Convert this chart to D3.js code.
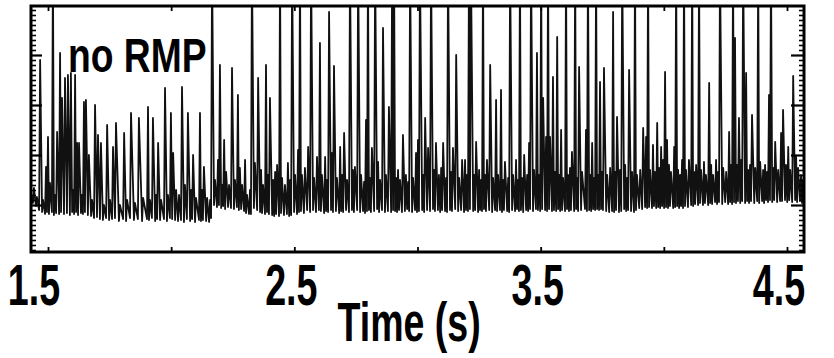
<!DOCTYPE html>
<html>
<head>
<meta charset="utf-8">
<script src="https://cdn.jsdelivr.net/npm/d3@7"></script>
<style>
  html, body { margin: 0; padding: 0; background: #fff; }
  svg { display: block; }
</style>
</head>
<body>
<svg id="chart" width="834" height="358"></svg>
<script>
// ---- DATA ----
// x axis: time in seconds; y axis: D-alpha signal (arbitrary units)
const xTickValues = [1.5, 2.0, 2.5, 3.0, 3.5, 4.0, 4.5];
const xTickLabels = ["1.5", "2.5", "3.5", "4.5"];
const xLabelTimes = [1.5, 2.5, 3.5, 4.5];
const yMajorTicks = [0.5, 1.0, 1.5, 2.0];
const xDomain = [1.431, 4.569];
const yDomain = [0.03, 2.49];

// each ELM / spike: time, peak value, floor value just before the spike
const elmTime = [
 1.431,1.443,1.455,1.468,1.480,1.492,1.500,1.508,1.520,1.528,1.537,1.549,1.557,1.569,1.581,1.593,1.602,1.610,1.618,1.626,1.638,1.646,1.654,1.666,1.679,
 1.691,1.703,1.715,1.727,1.740,1.752,1.764,1.776,1.792,1.809,1.821,1.837,1.853,1.869,1.886,1.906,1.914,1.926,1.939,1.947,1.959,1.975,1.987,1.999,2.008,2.020,2.032,2.044,2.056,2.068,2.081,2.089,2.101,2.117,2.125,2.133,2.146,2.158,
 2.166,2.178,2.190,2.198,2.207,2.215,2.223,2.235,2.247,2.259,2.271,2.279,2.288,2.300,2.308,2.320,
 2.328,2.340,2.353,2.365,2.373,2.385,2.393,2.401,2.414,2.422,2.430,2.442,2.450,2.462,2.474,2.483,2.491,2.503,2.515,2.523,2.531,2.543,2.556,2.568,2.580,2.592,2.604,2.612,2.625,2.633,2.641,2.653,2.661,2.673,2.686,2.694,2.702,2.714,2.726,2.738,2.746,2.759,2.771,2.783,2.791,2.799,2.807,2.815,2.828,2.840,2.848,2.860,2.872,2.884,2.897,2.905,2.913,2.921,2.929,2.941,2.953,2.962,2.970,2.982,2.994,3.002,3.010,
 3.023,3.031,3.043,3.055,3.067,3.075,3.087,3.096,3.104,3.116,3.124,3.136,3.144,3.157,3.169,3.181,3.193,3.201,3.209,3.217,3.230,3.238,3.250,3.258,3.266,3.274,3.282,3.295,3.307,3.319,3.327,3.339,3.347,3.355,3.368,3.376,3.388,3.400,3.408,3.416,3.424,3.433,3.445,3.453,3.461,3.473,3.485,3.493,3.502,3.510,3.522,3.530,3.538,3.550,3.558,3.567,3.575,3.583,3.591,3.603,3.611,3.619,3.627,3.640,3.648,3.656,3.668,3.684,3.692,3.701,3.709,3.717,3.725,3.733,3.741,
 3.749,3.757,3.770,3.782,3.794,3.802,3.810,3.822,3.831,3.843,3.851,3.859,3.871,3.883,3.891,3.904,3.916,3.928,3.936,3.944,3.956,3.964,3.973,3.981,3.989,3.997,4.005,4.013,4.021,4.029,4.042,4.050,4.058,4.066,4.074,4.082,4.090,4.102,4.115,4.123,4.131,
 4.143,4.151,4.163,4.171,4.184,4.192,4.200,4.212,4.220,4.228,4.241,4.253,4.265,4.273,4.281,4.289,4.297,4.305,4.314,4.322,4.334,4.342,4.350,4.358,4.371,4.383,4.391,4.403,4.411,4.419,4.427,4.435,4.444,4.452,4.464,4.476,4.484,4.496,4.505,4.513,4.525,4.537,4.545,4.557,4.565
];
const elmPeak = [
 0.60,0.67,0.58,1.95,0.55,0.88,1.18,0.72,2.90,0.60,1.23,2.02,1.57,1.77,1.80,1.82,0.65,1.80,1.12,1.12,0.60,1.53,1.55,1.00,0.55,
 1.50,1.20,1.12,0.50,1.30,0.55,1.08,1.32,0.50,1.22,0.55,1.42,0.52,1.37,0.57,1.48,0.55,1.37,0.60,1.12,0.55,1.67,0.60,1.42,1.02,0.65,0.60,1.68,0.70,1.42,0.65,1.00,0.57,1.42,0.65,0.88,0.57,0.55,
 2.90,0.75,0.95,1.90,0.70,1.15,0.83,0.70,1.87,0.75,1.60,0.87,0.70,0.95,0.60,0.65,
 2.90,0.92,1.77,0.85,0.70,1.90,0.80,1.57,0.75,0.83,0.90,2.90,0.77,0.70,0.92,0.75,2.90,0.80,1.05,2.90,0.80,0.87,1.08,2.90,0.77,0.98,2.12,0.80,0.98,0.75,2.43,1.02,1.89,0.77,1.08,0.80,1.22,0.75,2.90,0.85,0.88,2.90,0.80,0.73,1.35,2.90,0.77,1.07,2.90,0.93,0.75,2.27,0.80,1.48,2.90,2.90,0.77,0.85,0.75,1.20,0.80,0.73,2.90,0.77,1.02,1.15,2.90,
 0.80,1.37,1.07,2.90,0.85,1.12,0.80,0.87,1.12,0.77,2.90,0.83,1.07,2.00,0.77,0.95,0.95,0.80,2.90,2.90,0.80,1.13,0.85,0.75,2.90,0.80,0.95,1.90,0.77,1.55,0.80,1.65,0.75,0.93,0.77,2.90,0.80,0.95,0.75,2.90,0.77,1.00,0.80,1.12,2.90,0.85,2.02,0.80,2.90,1.57,1.18,2.90,1.18,1.78,0.83,2.18,0.80,1.25,0.77,2.90,0.80,0.87,1.03,2.90,0.77,1.88,0.83,1.25,2.90,0.80,1.12,0.77,2.90,0.80,1.73,
 0.83,1.87,0.80,0.87,2.43,0.83,1.38,0.85,2.90,0.90,0.77,1.85,0.83,2.90,0.80,0.85,1.27,1.18,2.90,0.85,1.10,0.83,1.32,0.87,1.08,0.95,1.83,1.15,0.90,0.83,1.08,2.90,0.85,0.80,0.95,2.90,0.85,0.95,2.90,0.83,0.90,
 2.90,0.85,0.93,0.80,1.72,0.90,0.80,0.95,0.83,2.90,0.87,0.83,1.23,0.90,2.90,2.17,0.90,1.37,0.95,2.90,1.82,0.85,0.90,1.40,0.87,2.90,0.93,0.85,0.90,0.83,1.60,2.90,0.87,1.13,0.85,1.22,1.45,0.90,1.08,0.85,1.79,0.98,0.87,0.80,0.75
];
const elmFloor = [
 0.50,0.52,0.49,0.45,0.43,0.41,0.43,0.41,0.43,0.40,0.42,0.41,0.43,0.41,0.42,0.40,0.43,0.41,0.43,0.40,0.42,0.41,0.43,0.40,0.39,
 0.37,0.38,0.36,0.35,0.37,0.35,0.36,0.37,0.34,0.36,0.34,0.37,0.35,0.36,0.34,0.36,0.35,0.37,0.34,0.36,0.35,0.36,0.34,0.37,0.36,0.35,0.34,0.35,0.33,0.36,0.34,0.36,0.33,0.35,0.34,0.35,0.34,0.33,
 0.37,0.50,0.48,0.50,0.47,0.49,0.46,0.48,0.47,0.46,0.48,0.45,0.46,0.44,0.42,0.41,
 0.41,0.47,0.45,0.43,0.42,0.41,0.43,0.41,0.40,0.39,0.41,0.39,0.42,0.40,0.41,0.39,0.40,0.43,0.41,0.43,0.44,0.42,0.45,0.43,0.45,0.43,0.45,0.44,0.42,0.44,0.43,0.45,0.43,0.44,0.42,0.44,0.43,0.45,0.43,0.45,0.43,0.45,0.43,0.44,0.42,0.44,0.45,0.43,0.44,0.46,0.43,0.45,0.43,0.44,0.43,0.45,0.44,0.43,0.45,0.43,0.44,0.46,0.44,0.43,0.45,0.43,0.44,
 0.45,0.43,0.45,0.44,0.46,0.44,0.45,0.43,0.45,0.44,0.43,0.45,0.44,0.46,0.44,0.45,0.43,0.45,0.44,0.46,0.44,0.45,0.43,0.45,0.44,0.46,0.44,0.45,0.43,0.45,0.44,0.45,0.43,0.45,0.44,0.43,0.45,0.44,0.46,0.44,0.45,0.43,0.45,0.44,0.46,0.44,0.46,0.45,0.44,0.46,0.45,0.44,0.46,0.44,0.45,0.44,0.46,0.44,0.45,0.44,0.46,0.44,0.45,0.44,0.46,0.44,0.45,0.46,0.44,0.45,0.44,0.46,0.45,0.46,0.45,
 0.46,0.45,0.44,0.43,0.44,0.43,0.45,0.43,0.44,0.46,0.44,0.45,0.44,0.43,0.45,0.47,0.46,0.48,0.47,0.48,0.47,0.49,0.47,0.48,0.47,0.49,0.47,0.48,0.47,0.49,0.47,0.48,0.49,0.47,0.49,0.47,0.49,0.48,0.50,0.49,0.51,
 0.50,0.52,0.50,0.52,0.50,0.52,0.51,0.53,0.51,0.53,0.51,0.53,0.51,0.53,0.51,0.53,0.52,0.54,0.52,0.54,0.52,0.54,0.52,0.54,0.52,0.54,0.52,0.54,0.52,0.55,0.53,0.55,0.53,0.55,0.53,0.54,0.54,0.55,0.53,0.55,0.53,0.55,0.53,0.54,0.52
];
const traceEndTime = [4.569];
const traceEndValue = [0.55];
const annotation = { text: "no RMP", t: 1.581, v: 1.83 };
const xTitle = "Time (s)";

// ---- LAYOUT ----
const svg = d3.select("#chart");
const W = 834, H = 358;
const plot = { left: 31, right: 804, top: 6, bottom: 252 };
const labelDx = [-14, -3, -3, -8];   // horizontal nudges of the tick labels (px)

const x = d3.scaleLinear().domain(xDomain).range([plot.left, plot.right]);
const y = d3.scaleLinear().domain(yDomain).range([plot.bottom, plot.top]);

svg.append("rect").attr("width", W).attr("height", H).attr("fill", "#fff");

svg.append("clipPath").attr("id", "clip")
  .append("rect")
  .attr("x", plot.left).attr("y", plot.top)
  .attr("width", plot.right - plot.left).attr("height", plot.bottom - plot.top);

// ---- TRACE ----
const pts = [];
elmTime.forEach((t, i) => {
  pts.push([x(t) - 1, y(elmFloor[i])]);
  pts.push([x(t), y(elmPeak[i])]);
});
pts.push([x(traceEndTime[0]), y(traceEndValue[0])]);

svg.append("path")
  .attr("clip-path", "url(#clip)")
  .attr("d", d3.line()(pts))
  .attr("fill", "none")
  .attr("stroke", "#111")
  .attr("stroke-width", 1.8)
  .attr("stroke-linejoin", "round");

// ---- AXES (ticks inward on all four sides) ----
const minorY = y.ticks(50).filter(v => !yMajorTicks.some(m => Math.abs(m - v) < 1e-6));

function styleAxis(g, w) {
  g.select(".domain").remove();
  g.selectAll(".tick line").attr("stroke", "#000").attr("stroke-width", w);
  g.selectAll(".tick text").remove();
}

// left
svg.append("g").attr("transform", `translate(${plot.left},0)`)
  .call(d3.axisRight(y).tickValues(minorY).tickSize(5).tickFormat(""))
  .call(g => styleAxis(g, 1.6));
svg.append("g").attr("transform", `translate(${plot.left},0)`)
  .call(d3.axisRight(y).tickValues(yMajorTicks).tickSize(11).tickFormat(""))
  .call(g => styleAxis(g, 2.2));
// right
svg.append("g").attr("transform", `translate(${plot.right},0)`)
  .call(d3.axisLeft(y).tickValues(minorY).tickSize(5).tickFormat(""))
  .call(g => styleAxis(g, 1.6));
svg.append("g").attr("transform", `translate(${plot.right},0)`)
  .call(d3.axisLeft(y).tickValues(yMajorTicks).tickSize(13).tickFormat(""))
  .call(g => styleAxis(g, 2.2));
// top
svg.append("g").attr("transform", `translate(0,${plot.top})`)
  .call(d3.axisBottom(x).tickValues(xTickValues).tickSize(5).tickFormat(""))
  .call(g => styleAxis(g, 1.8));
// bottom
svg.append("g").attr("transform", `translate(0,${plot.bottom})`)
  .call(d3.axisTop(x).tickValues(xTickValues).tickSize(5).tickFormat(""))
  .call(g => styleAxis(g, 1.8));

// frame
svg.append("rect")
  .attr("x", plot.left).attr("y", plot.top)
  .attr("width", plot.right - plot.left).attr("height", plot.bottom - plot.top)
  .attr("fill", "none").attr("stroke", "#000").attr("stroke-width", 3);

// ---- TEXT ----
const font = "'Liberation Sans', Arial, Helvetica, sans-serif";

xLabelTimes.forEach((t, i) => {
  svg.append("g")
    .attr("transform", `translate(${x(t) + labelDx[i]},305) scale(0.66,1)`)
    .append("text")
    .attr("text-anchor", "middle")
    .attr("font-family", font).attr("font-weight", "bold")
    .attr("font-size", 57).attr("fill", "#000")
    .text(xTickLabels[i]);
});

svg.append("g")
  .attr("transform", `translate(${x(2.966)},341) scale(0.67,1)`)
  .append("text")
  .attr("text-anchor", "middle")
  .attr("font-family", font).attr("font-weight", "bold")
  .attr("font-size", 56).attr("fill", "#000")
  .text(xTitle);

svg.append("g")
  .attr("transform", `translate(${x(annotation.t)},${y(annotation.v)}) scale(0.76,1)`)
  .append("text")
  .attr("text-anchor", "start")
  .attr("font-family", font).attr("font-weight", "bold")
  .attr("font-size", 49).attr("fill", "#000")
  .text(annotation.text);
</script>
</body>
</html>
